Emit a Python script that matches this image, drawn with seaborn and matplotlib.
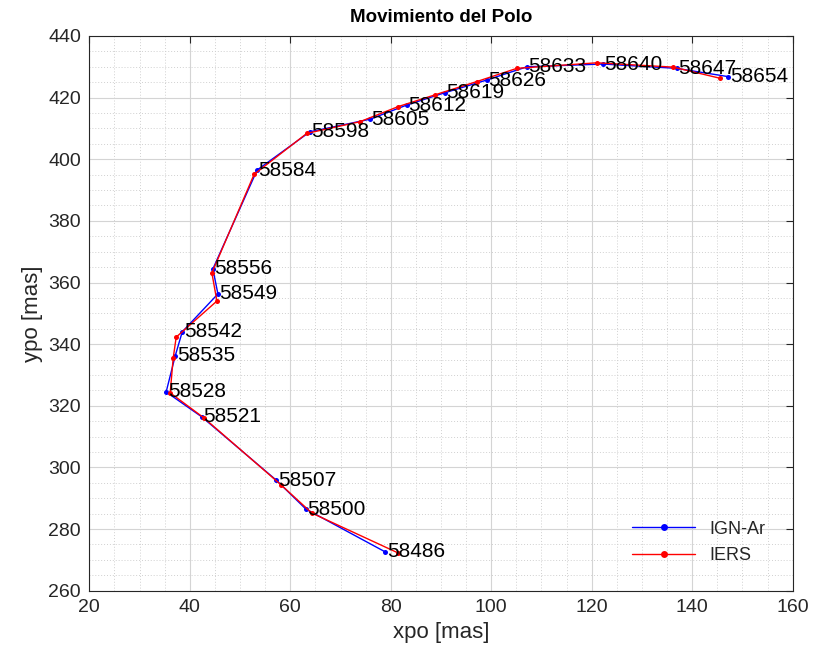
import matplotlib
matplotlib.use("Agg")
import matplotlib.pyplot as plt
import seaborn as sns
import pandas as pd
from matplotlib.ticker import MultipleLocator

# --- data ---
epochs = [58486, 58500, 58507, 58521, 58528, 58535, 58542, 58549, 58556, 58584,
          58598, 58605, 58612, 58619, 58626, 58633, 58640, 58647, 58654]
ign_x = [78.9, 63.1, 57.2, 42.4, 35.3, 37.1, 38.5, 45.6, 44.6, 53.4,
         63.9, 75.9, 83.2, 90.8, 99.1, 107.1, 122.2, 136.9, 147.2]
ign_y = [272.6, 286.5, 295.9, 316.4, 324.5, 336.2, 344.0, 356.3, 364.4, 396.5,
         408.9, 413.0, 417.6, 421.6, 425.7, 430.0, 430.9, 429.5, 426.8]
iers_x = [81.4, 64.3, 58.2, 42.8, 36.1, 36.7, 37.3, 45.4, 44.4, 52.8,
          63.3, 73.9, 81.5, 88.8, 97.1, 105.1, 121.0, 136.2, 145.5]
iers_y = [272.3, 285.2, 294.3, 316.1, 324.2, 335.5, 342.3, 354.0, 363.1, 395.1,
          408.4, 412.2, 417.1, 420.9, 425.2, 429.5, 431.3, 429.9, 426.3]
series_names = ["IGN-Ar", "IERS"]
x_ticks = [20, 40, 60, 80, 100, 120, 140, 160]
y_ticks = [260, 280, 300, 320, 340, 360, 380, 400, 420, 440]

df = pd.concat([
    pd.DataFrame({"xpo": ign_x, "ypo": ign_y, "mjd": epochs, "serie": series_names[0]}),
    pd.DataFrame({"xpo": iers_x, "ypo": iers_y, "mjd": epochs, "serie": series_names[1]}),
], ignore_index=True)

sns.set_theme(style="white")
plt.rcParams["font.family"] = ["Liberation Sans", "DejaVu Sans"]

fig = plt.figure(figsize=(8.14, 6.59), dpi=100)
ax = fig.add_axes([0.1097, 0.1036, 0.8641, 0.8418])

sns.lineplot(data=df, x="xpo", y="ypo", hue="serie", sort=False, estimator=None,
             palette={"IGN-Ar": "#0000ff", "IERS": "#ff0000"},
             marker="o", markersize=3.6, markeredgewidth=0, linewidth=1.0, ax=ax)

for m, x, y in zip(epochs, ign_x, ign_y):
    ax.text(x + 0.3, y, str(m), ha="left", va="center", fontsize=15, color="black")

ax.set_xlim(20, 160)
ax.set_ylim(260, 440)
ax.set_xticks(x_ticks)
ax.set_yticks(y_ticks)
ax.xaxis.set_minor_locator(MultipleLocator(5))
ax.yaxis.set_minor_locator(MultipleLocator(5))
ax.grid(True, which="major", color="#d4d4d4", linewidth=0.8, linestyle="-")
ax.grid(True, which="minor", color="#d0d0d0", linewidth=0.7, linestyle=(0, (1, 2)))
ax.set_axisbelow(True)
ax.tick_params(which="major", direction="in", length=5, width=0.8, color="#262626",
               top=True, right=True, labelsize=14, labelcolor="#262626", pad=6)
ax.tick_params(which="minor", length=0)
for s in ax.spines.values():
    s.set_color("#262626")
    s.set_linewidth(0.8)

ax.set_xlabel("xpo [mas]", fontsize=16, color="#262626")
ax.set_ylabel("ypo [mas]", fontsize=16, color="#262626")
ax.set_title("Movimiento del Polo", fontsize=13.5, fontweight="bold", color="black", pad=10)

leg = ax.legend(loc="lower right", frameon=False, fontsize=13, handlelength=3.5,
                bbox_to_anchor=(0.985, 0.018), labelspacing=0.55)
for h in leg.legend_handles:
    h.set_markersize(5)

fig.savefig("out.png", dpi=100, facecolor="white")
